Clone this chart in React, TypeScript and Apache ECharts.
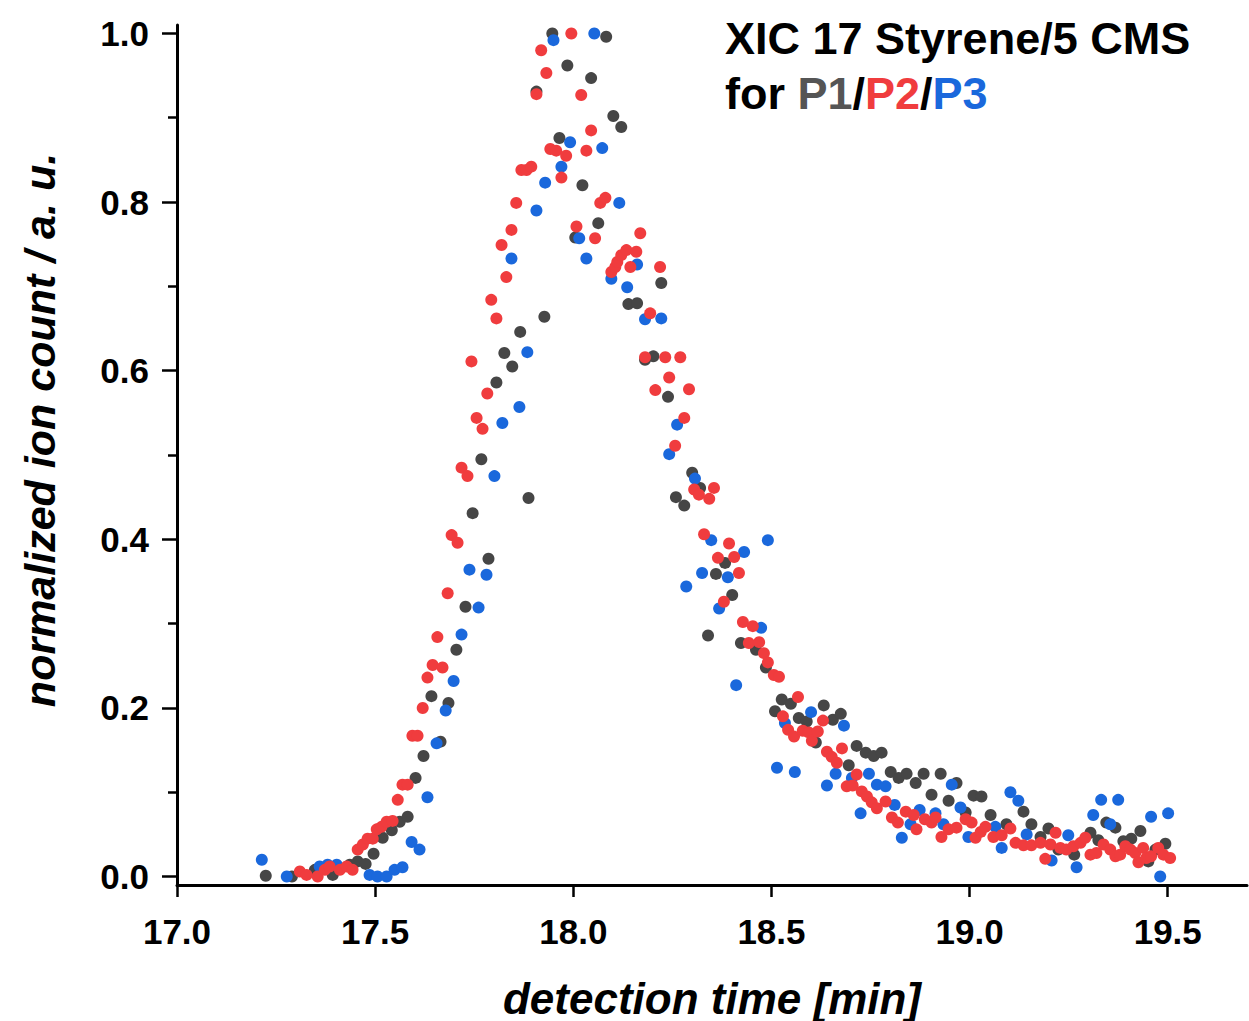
import React, { useEffect, useRef } from "react";
import * as echarts from "echarts";

// [detection time (min), normalized ion count]
const p1Gray: [number, number][] = [
  [17.224, 0.001], [17.29, 0.0], [17.348, 0.008], [17.393, 0.002], [17.436, 0.014], [17.456, 0.018],
  [17.476, 0.015], [17.496, 0.027], [17.519, 0.046], [17.542, 0.055], [17.562, 0.065], [17.582, 0.071],
  [17.602, 0.117], [17.622, 0.143], [17.642, 0.214], [17.665, 0.16], [17.685, 0.206], [17.705, 0.269],
  [17.728, 0.32], [17.746, 0.431], [17.768, 0.495], [17.786, 0.377], [17.806, 0.586], [17.826, 0.621],
  [17.846, 0.605], [17.866, 0.646], [17.887, 0.449], [17.907, 0.931], [17.927, 0.664], [17.947, 1.0],
  [17.965, 0.876], [17.985, 0.962], [18.005, 0.758], [18.023, 0.82], [18.045, 0.947], [18.063, 0.775],
  [18.083, 0.996], [18.101, 0.902], [18.121, 0.889], [18.139, 0.679], [18.161, 0.68], [18.181, 0.613],
  [18.202, 0.617], [18.222, 0.704], [18.239, 0.569], [18.259, 0.45], [18.28, 0.44], [18.3, 0.479],
  [18.32, 0.461], [18.34, 0.286], [18.36, 0.359], [18.383, 0.372], [18.401, 0.334], [18.423, 0.277],
  [18.461, 0.269], [18.486, 0.248], [18.509, 0.196], [18.526, 0.21], [18.549, 0.205], [18.569, 0.188],
  [18.589, 0.184], [18.612, 0.159], [18.632, 0.203], [18.655, 0.186], [18.675, 0.193], [18.695, 0.132],
  [18.715, 0.155], [18.738, 0.147], [18.758, 0.143], [18.778, 0.147], [18.801, 0.124], [18.821, 0.117],
  [18.841, 0.122], [18.864, 0.111], [18.884, 0.122], [18.904, 0.097], [18.927, 0.122], [18.947, 0.09],
  [18.967, 0.111], [18.99, 0.076], [19.01, 0.096], [19.03, 0.095], [19.053, 0.073], [19.093, 0.062],
  [19.136, 0.077], [19.156, 0.062], [19.179, 0.047], [19.199, 0.057], [19.224, 0.032], [19.264, 0.026],
  [19.305, 0.052], [19.325, 0.043], [19.345, 0.064], [19.368, 0.058], [19.388, 0.042], [19.408, 0.045],
  [19.431, 0.054], [19.451, 0.018], [19.469, 0.032], [19.494, 0.039],
];

const p3Blue: [number, number][] = [
  [17.214, 0.02], [17.277, 0.0], [17.36, 0.012], [17.38, 0.014], [17.403, 0.014], [17.486, 0.002],
  [17.506, 0.0], [17.529, 0.0], [17.549, 0.008], [17.569, 0.011], [17.592, 0.041], [17.612, 0.032],
  [17.632, 0.094], [17.655, 0.158], [17.678, 0.197], [17.698, 0.232], [17.718, 0.287], [17.738, 0.364],
  [17.761, 0.319], [17.781, 0.358], [17.801, 0.475], [17.821, 0.538], [17.844, 0.733], [17.864, 0.557],
  [17.884, 0.622], [17.907, 0.79], [17.929, 0.823], [17.95, 0.992], [17.97, 0.842], [17.992, 0.871],
  [18.015, 0.757], [18.033, 0.733], [18.053, 1.0], [18.073, 0.864], [18.096, 0.709], [18.116, 0.799],
  [18.136, 0.699], [18.161, 0.726], [18.181, 0.661], [18.222, 0.662], [18.242, 0.501], [18.262, 0.536],
  [18.285, 0.344], [18.307, 0.472], [18.325, 0.36], [18.348, 0.399], [18.368, 0.318], [18.39, 0.355],
  [18.411, 0.227], [18.431, 0.385], [18.474, 0.295], [18.491, 0.399], [18.514, 0.129], [18.534, 0.182],
  [18.559, 0.124], [18.6, 0.195], [18.64, 0.108], [18.662, 0.122], [18.683, 0.179], [18.703, 0.117],
  [18.725, 0.075], [18.746, 0.122], [18.766, 0.109], [18.788, 0.107], [18.811, 0.085], [18.829, 0.046],
  [18.851, 0.062], [18.874, 0.079], [18.914, 0.075], [18.934, 0.062], [18.955, 0.109], [18.977, 0.082],
  [18.997, 0.047], [19.065, 0.059], [19.081, 0.034], [19.103, 0.1], [19.123, 0.09], [19.144, 0.05],
  [19.207, 0.019], [19.249, 0.049], [19.27, 0.011], [19.312, 0.073], [19.332, 0.091], [19.355, 0.062],
  [19.375, 0.091], [19.458, 0.071], [19.481, 0.0], [19.501, 0.075],
];

const p2Red: [number, number][] = [
  [17.31, 0.006], [17.327, 0.002], [17.355, 0.0], [17.373, 0.008], [17.385, 0.012], [17.411, 0.008],
  [17.428, 0.012], [17.443, 0.008], [17.456, 0.032], [17.469, 0.038], [17.481, 0.045], [17.494, 0.045],
  [17.504, 0.056], [17.516, 0.059], [17.529, 0.065], [17.544, 0.066], [17.557, 0.091], [17.569, 0.109],
  [17.582, 0.109], [17.594, 0.167], [17.607, 0.167], [17.62, 0.2], [17.632, 0.236], [17.645, 0.251],
  [17.657, 0.284], [17.67, 0.248], [17.683, 0.336], [17.693, 0.405], [17.708, 0.396], [17.718, 0.485],
  [17.733, 0.475], [17.743, 0.611], [17.756, 0.544], [17.771, 0.531], [17.783, 0.573], [17.793, 0.684],
  [17.806, 0.662], [17.819, 0.749], [17.831, 0.711], [17.844, 0.767], [17.856, 0.799], [17.869, 0.838],
  [17.882, 0.838], [17.894, 0.842], [17.907, 0.928], [17.919, 0.98], [17.932, 0.953], [17.942, 0.863],
  [17.957, 0.861], [17.97, 0.829], [17.982, 0.855], [17.995, 1.0], [18.008, 0.771], [18.02, 0.927],
  [18.033, 0.861], [18.045, 0.885], [18.055, 0.757], [18.068, 0.799], [18.081, 0.805], [18.096, 0.717],
  [18.106, 0.723], [18.111, 0.729], [18.121, 0.737], [18.134, 0.743], [18.144, 0.723], [18.159, 0.741],
  [18.169, 0.763], [18.181, 0.616], [18.194, 0.668], [18.207, 0.577], [18.219, 0.723], [18.232, 0.616],
  [18.242, 0.592], [18.257, 0.511], [18.27, 0.616], [18.28, 0.544], [18.292, 0.578], [18.305, 0.459],
  [18.317, 0.453], [18.33, 0.406], [18.343, 0.448], [18.355, 0.461], [18.365, 0.378], [18.38, 0.326],
  [18.393, 0.395], [18.406, 0.379], [18.418, 0.36], [18.428, 0.302], [18.443, 0.277], [18.453, 0.297],
  [18.469, 0.278], [18.481, 0.265], [18.491, 0.254], [18.506, 0.239], [18.519, 0.237], [18.529, 0.19],
  [18.542, 0.174], [18.557, 0.166], [18.567, 0.213], [18.579, 0.173], [18.594, 0.171], [18.602, 0.161],
  [18.617, 0.172], [18.63, 0.185], [18.64, 0.148], [18.652, 0.142], [18.665, 0.135], [18.678, 0.152],
  [18.69, 0.107], [18.705, 0.108], [18.715, 0.121], [18.728, 0.101], [18.741, 0.095], [18.753, 0.088],
  [18.766, 0.081], [18.788, 0.089], [18.804, 0.07], [18.819, 0.064], [18.839, 0.077], [18.859, 0.073],
  [18.866, 0.056], [18.887, 0.068], [18.904, 0.064], [18.914, 0.07], [18.929, 0.047], [18.947, 0.056],
  [18.967, 0.058], [18.99, 0.068], [19.005, 0.064], [19.015, 0.046], [19.028, 0.053], [19.04, 0.059],
  [19.06, 0.047], [19.081, 0.049], [19.103, 0.057], [19.116, 0.04], [19.136, 0.037], [19.156, 0.037],
  [19.179, 0.04], [19.191, 0.021], [19.204, 0.038], [19.217, 0.052], [19.229, 0.034], [19.244, 0.032],
  [19.262, 0.036], [19.28, 0.04], [19.292, 0.046], [19.305, 0.026], [19.32, 0.028], [19.338, 0.038],
  [19.355, 0.032], [19.368, 0.024], [19.38, 0.026], [19.393, 0.036], [19.406, 0.032], [19.418, 0.028],
  [19.426, 0.017], [19.438, 0.034], [19.446, 0.022], [19.458, 0.024], [19.476, 0.034], [19.489, 0.026],
  [19.506, 0.022],
];

const xTicks = [17.0, 17.5, 18.0, 18.5, 19.0, 19.5];
const yTicks = [0.0, 0.2, 0.4, 0.6, 0.8, 1.0];
const yMinorTicks = [0.1, 0.3, 0.5, 0.7, 0.9];
const seriesNames = ["P1", "P2", "P3"];
const titleLine1 = "XIC 17 Styrene/5 CMS";
const xTitle = "detection time [min]";
const yTitle = "normalized ion count / a. u.";

const GRAY = "#464646";
const RED = "#f03c3e";
const BLUE = "#1a68dc";
const FONT = "'Liberation Sans', Arial, sans-serif";

export default function App() {
  const ref = useRef<HTMLDivElement>(null);
  useEffect(() => {
    if (!ref.current) return;
    const chart = echarts.init(ref.current, undefined, { renderer: "svg" });
    const axisLineStyle = { color: "#000", width: 3 };
    chart.setOption({
      animation: false,
      backgroundColor: "#fff",
      grid: { left: 177, right: 2, top: 25, bottom: 136, containLabel: false },
      xAxis: {
        type: "value",
        min: 17,
        max: 19.7,
        splitLine: { show: false },
        axisLine: { onZero: false, lineStyle: axisLineStyle },
        axisTick: { customValues: xTicks, length: 12, lineStyle: { color: "#000", width: 2.5 } },
        axisLabel: {
          customValues: xTicks,
          formatter: (v: number) => v.toFixed(1),
          fontFamily: FONT,
          fontWeight: "bold",
          fontSize: 35,
          color: "#000",
          margin: 29,
        },
      },
      yAxis: [
        {
          type: "value",
          min: -0.01,
          max: 1.01,
          splitLine: { show: false },
          axisLine: { onZero: false, lineStyle: axisLineStyle },
          axisTick: { customValues: yTicks, length: 15, lineStyle: { color: "#000", width: 2.5 } },
          axisLabel: {
            customValues: yTicks,
            formatter: (v: number) => v.toFixed(1),
            fontFamily: FONT,
            fontWeight: "bold",
            fontSize: 35,
            color: "#000",
            margin: 28,
          },
        },
        {
          type: "value",
          min: -0.01,
          max: 1.01,
          position: "left",
          splitLine: { show: false },
          axisLine: { show: false },
          axisLabel: { show: false },
          axisTick: { customValues: yMinorTicks, length: 9, lineStyle: { color: "#000", width: 2.5 } },
        },
      ],
      series: [
        { name: seriesNames[0], type: "scatter", data: p1Gray, symbolSize: 12, itemStyle: { color: GRAY, opacity: 1 } },
        { name: seriesNames[2], type: "scatter", data: p3Blue, symbolSize: 12, itemStyle: { color: BLUE, opacity: 1 } },
        { name: seriesNames[1], type: "scatter", data: p2Red, symbolSize: 12, itemStyle: { color: RED, opacity: 1 } },
      ],
      graphic: [
        {
          type: "text",
          x: 725,
          y: 38,
          style: {
            text: titleLine1,
            font: `bold 45px ${FONT}`,
            fill: "#000",
            verticalAlign: "middle",
            align: "left",
          },
        },
        {
          type: "text",
          x: 725,
          y: 93,
          style: {
            text: `for {g|${seriesNames[0]}}/{r|${seriesNames[1]}}/{b|${seriesNames[2]}}`,
            font: `bold 45px ${FONT}`,
            fill: "#000",
            verticalAlign: "middle",
            align: "left",
            rich: {
              g: { fill: "#555555", font: `bold 45px ${FONT}` },
              r: { fill: RED, font: `bold 45px ${FONT}` },
              b: { fill: BLUE, font: `bold 45px ${FONT}` },
            },
          },
        },
        {
          type: "text",
          x: 712,
          y: 998,
          style: {
            text: xTitle,
            font: `italic bold 44px ${FONT}`,
            fill: "#000",
            align: "center",
            verticalAlign: "middle",
          },
        },
        {
          type: "text",
          x: 40,
          y: 430,
          rotation: Math.PI / 2,
          style: {
            text: yTitle,
            font: `italic bold 43px ${FONT}`,
            fill: "#000",
            align: "center",
            verticalAlign: "middle",
          },
        },
      ],
    });
    return () => chart.dispose();
  }, []);
  return (
    <div
      ref={ref}
      style={{ position: "fixed", left: 0, top: 0, width: 1249, height: 1021, background: "#fff" }}
    />
  );
}
